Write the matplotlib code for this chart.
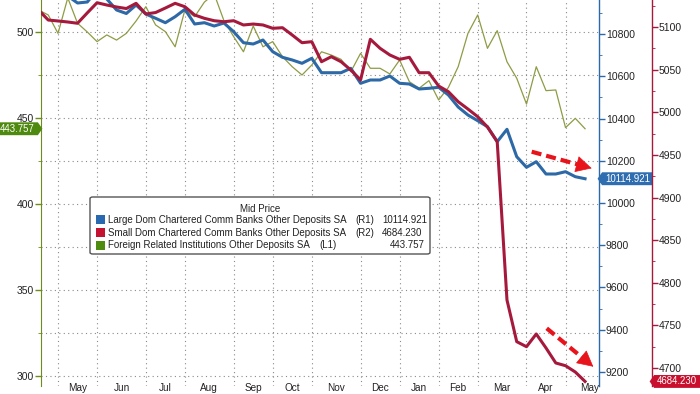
import matplotlib
matplotlib.use("Agg")
import matplotlib.pyplot as plt
import numpy as np
import pandas as pd
from matplotlib.path import Path
from matplotlib.lines import Line2D
from matplotlib.patches import FancyBboxPatch, Rectangle
from matplotlib.ticker import MultipleLocator, NullFormatter

plt.rcParams['font.family'] = ['Liberation Sans', 'DejaVu Sans']

# weekly H.8 observations (Wednesdays)
weeks = pd.date_range('2022-04-20', periods=57, freq='7D')

large_dom = [11017.8, 11008.3, 10989.4, 10979.9, 10946.8, 10951.5, 11008.3, 10965.7,
             10913.7, 10897.1, 10937.3, 10894.7, 10874.4, 10853.5, 10881.9, 10917.0,
             10847.4, 10853.5, 10837.9, 10852.1, 10810.9, 10758.9, 10752.7, 10771.6,
             10716.3, 10689.7, 10677.0, 10661.3, 10685.0, 10616.8, 10616.8, 10616.8,
             10637.7, 10566.7, 10582.3, 10582.3, 10601.2, 10566.7, 10563.3, 10539.7,
             10543.0, 10547.7, 10511.3, 10454.5, 10416.6, 10389.6, 10361.2, 10290.2,
             10348.9, 10219.2, 10169.0, 10195.5, 10137.3, 10137.3, 10148.2, 10124.5,
             10114.921]

small_dom = [5120.0, 5108.2, 5107.1, 5105.9, 5104.4, 5116.6, 5128.5, 5125.8,
             5123.5, 5121.7, 5127.8, 5115.3, 5117.0, 5122.3, 5127.8, 5123.8,
             5114.1, 5110.2, 5107.4, 5106.2, 5107.4, 5102.4, 5103.5, 5102.4,
             5098.5, 5099.2, 5090.6, 5081.6, 5082.8, 5059.3, 5065.2, 5059.3,
             5049.6, 5037.9, 5085.6, 5075.0, 5067.2, 5062.1, 5064.5, 5046.4,
             5046.4, 5030.8, 5024.1, 5012.4, 5003.8, 4994.8, 4982.7, 4965.5,
             4779.8, 4730.9, 4725.0, 4739.9, 4723.5, 4705.9, 4702.7, 4695.3,
             4684.230]

foreign = [512.8, 509.9, 499.2, 519.8, 505.1, 500.0, 494.4, 498.3,
           495.3, 499.2, 506.4, 514.7, 504.1, 500.2, 491.4, 512.8,
           508.9, 517.4, 522.1, 506.6, 497.3, 488.5, 503.5, 491.4,
           494.4, 485.6, 479.8, 475.0, 480.8, 488.5, 486.6, 484.1,
           476.9, 487.6, 478.9, 478.9, 475.6, 483.7, 471.1, 467.3,
           471.7, 460.5, 467.8, 479.8, 499.2, 509.9, 490.5, 500.8,
           482.7, 473.1, 458.1, 479.8, 465.9, 466.3, 444.4, 449.8,
           443.757]

series_names = ['Large Dom Chartered Comm Banks Other Deposits SA',
                'Small Dom Chartered Comm Banks Other Deposits SA',
                'Foreign Related Institutions Other Deposits SA']
series_axes = ['(R1)', '(R2)', '(L1)']

BLUE = '#2c69a6'
RED = '#a51a3c'
GREEN = '#8f9b45'
GREEN_AX = '#6e8b1e'
BLUE_TAG = '#2d6db0'
RED_TAG = '#c8102e'
GREEN_TAG = '#4f8a10'
ARROW_RED = '#e8141c'
TXT = '#222222'
GRID = dict(color='#8a8a8a', lw=0.8, ls=(0, (1, 3)))


def tag_left(x0, y0, width, height, mutation_size):
    p = 0.3 * mutation_size
    x0, y0, w, h = x0 - p, y0 - 0.5 * p, width + 2 * p, height + p
    n = h * 0.35
    verts = [(x0 - n, y0 + h / 2), (x0, y0 + h), (x0 + w, y0 + h), (x0 + w, y0),
             (x0, y0), (x0 - n, y0 + h / 2)]
    return Path(verts, closed=True)


def tag_right(x0, y0, width, height, mutation_size):
    p = 0.3 * mutation_size
    x0, y0, w, h = x0 - p, y0 - 0.5 * p, width + 2 * p, height + p
    n = h * 0.35
    verts = [(x0, y0), (x0, y0 + h), (x0 + w, y0 + h), (x0 + w + n, y0 + h / 2),
             (x0 + w, y0), (x0, y0)]
    return Path(verts, closed=True)


fig = plt.figure(figsize=(7, 3.94), dpi=100)
ax = fig.add_axes([41 / 700, 8 / 394, 558 / 700, 386 / 394])
axb = ax.twinx()
axr = ax.twinx()
axr.spines['right'].set_position(('axes', 1.095))

ax.plot(weeks, foreign, color=GREEN, lw=0.9)
axb.plot(weeks, large_dom, color=BLUE, lw=2.2, solid_joinstyle='round')
axr.plot(weeks, small_dom, color=RED, lw=2.2, solid_joinstyle='round')

ax.set_ylim(294.2, 518.6)
axb.set_ylim(9133.7, 10961)
axr.set_ylim(4678.9, 5131.7)

# month boundaries = first weekly observation in each month
cal = pd.date_range('2022-04-06', '2023-06-30', freq='7D')
firsts = [d for i, d in enumerate(cal) if i > 0 and d.month != cal[i - 1].month]
mids = [firsts[i] + (firsts[i + 1] - firsts[i]) / 2 for i in range(len(firsts) - 1)]
ax.set_xticks(firsts)
ax.xaxis.set_major_formatter(NullFormatter())
ax.set_xticks(mids, [d.strftime('%b') for d in mids], minor=True)
ax.tick_params(axis='x', which='both', length=0, pad=-2.5, labelsize=7.2, labelcolor=TXT)
ax.set_xlim(weeks[0] + pd.Timedelta(days=1.8), weeks[0] + pd.Timedelta(days=402))

ax.yaxis.set_major_locator(MultipleLocator(50))
ax.yaxis.set_minor_locator(MultipleLocator(25))
axb.yaxis.set_major_locator(MultipleLocator(200))
axb.yaxis.set_minor_locator(MultipleLocator(100))
axr.yaxis.set_major_locator(MultipleLocator(50))
axr.yaxis.set_minor_locator(MultipleLocator(25))

ax.grid(True, axis='x', which='major', **GRID)
ax.grid(True, axis='y', which='both', **GRID)

ax.tick_params(axis='y', which='major', direction='out', length=4, width=1,
               color=GREEN_AX, labelsize=7.5, labelcolor=TXT, pad=1)
ax.tick_params(axis='y', which='minor', direction='out', length=2, color=GREEN_AX)
axb.tick_params(axis='y', which='major', direction='out', length=4, width=1,
                color=BLUE, labelsize=7.5, labelcolor=TXT, pad=1)
axb.tick_params(axis='y', which='minor', direction='out', length=2, color=BLUE)
axr.tick_params(axis='y', which='major', direction='out', length=4, width=1,
                color=RED, labelsize=7.5, labelcolor=TXT, pad=1)
axr.tick_params(axis='y', which='minor', direction='out', length=2, color=RED)

for s in ['top', 'right', 'bottom']:
    ax.spines[s].set_visible(False)
ax.spines['left'].set_color(GREEN_AX)
for a, c in [(axb, BLUE), (axr, RED)]:
    for s in ['top', 'left', 'bottom']:
        a.spines[s].set_visible(False)
    a.spines['right'].set_color(c)
    a.spines['right'].set_linewidth(1.0)

# last-value tags
ax.annotate(f'{foreign[-1]:.3f}', xy=(0, foreign[-1]), xycoords=('axes fraction', 'data'),
            xytext=(-6, 0), textcoords='offset pixels', ha='right', va='center',
            fontsize=6.9, color='white', annotation_clip=False,
            bbox=dict(boxstyle=tag_right, fc=GREEN_TAG, ec='none'))
axb.annotate(f'{large_dom[-1]:.3f}', xy=(1, large_dom[-1]), xycoords=('axes fraction', 'data'),
             xytext=(6, 0), textcoords='offset pixels', ha='left', va='center',
             fontsize=7, color='white', annotation_clip=False,
             bbox=dict(boxstyle=tag_left, fc=BLUE_TAG, ec='none'))
axr.annotate(f'{small_dom[-1]:.3f}', xy=(1.095, small_dom[-1]), xycoords=('axes fraction', 'data'),
             xytext=(5, 0), textcoords='offset pixels', ha='left', va='center',
             fontsize=6.9, color='white', annotation_clip=False,
             bbox=dict(boxstyle=tag_left, fc=RED_TAG, ec='none'))


# legend box (figure pixels -> fraction)
def fx(px):
    return px / 700


def fy(py):
    return 1 - py / 394


fig.patches.append(FancyBboxPatch((fx(90), fy(254)), fx(430) - fx(90), fy(197) - fy(254),
                                  boxstyle='round,pad=0,rounding_size=0.004',
                                  transform=fig.transFigure, fc='white', ec='#555555',
                                  lw=1.0, zorder=5))
fig.text(fx(260), fy(209), 'Mid Price', ha='center', va='center', fontsize=7, color=TXT, zorder=6)
legend_vals = [f'{large_dom[-1]:.3f}', f'{small_dom[-1]:.3f}', f'{foreign[-1]:.3f}']
legend_cols = ['#2a69b0', '#c41230', '#4e8c10']
row_y = [220, 232.5, 245]
tag_x = [355, 355, 319]
val_x = [382, 382, 390]
for name, code, val, col, ry, tx, vx in zip(series_names, series_axes, legend_vals,
                                            legend_cols, row_y, tag_x, val_x):
    fig.patches.append(Rectangle((fx(96), fy(ry + 4.5)), 9 / 700, 9 / 394, fc=col, ec='none',
                                 transform=fig.transFigure, zorder=6))
    fig.text(fx(107.5), fy(ry), name, ha='left', va='center', fontsize=7, color=TXT, zorder=6)
    fig.text(fx(tx), fy(ry), code, ha='left', va='center', fontsize=7, color=TXT, zorder=6)
    fig.text(fx(vx), fy(ry), val, ha='left', va='center', fontsize=7, color=TXT, zorder=6)

# red dashed arrows (figure pixels)
arrows = [((531.7, 151.7), (591.7, 168.3)), ((546.7, 328.3), (593.3, 366.7))]
for (x0, y0), (x1, y1) in arrows:
    d = np.hypot(x1 - x0, y1 - y0)
    ux, uy = (x1 - x0) / d, (y1 - y0) / d
    sx, sy = x1 - 10 * ux, y1 - 10 * uy
    fig.add_artist(Line2D([fx(x0), fx(sx)], [fy(y0), fy(sy)], transform=fig.transFigure,
                          color=ARROW_RED, lw=3.0, ls=(0, (2.4, 1.2)),
                          solid_capstyle='butt', dash_capstyle='butt', zorder=7))
    axr.annotate('', xy=(fx(x1), fy(y1)), xycoords='figure fraction',
                 xytext=(fx(x1 - 2 * ux), fy(y1 - 2 * uy)), textcoords='figure fraction',
                 arrowprops=dict(arrowstyle='-|>,head_length=1.05,head_width=0.55',
                                 mutation_scale=10, fc=ARROW_RED, ec=ARROW_RED, lw=0.5,
                                 shrinkA=0, shrinkB=0), zorder=8)

fig.savefig('out.png', dpi=100)
